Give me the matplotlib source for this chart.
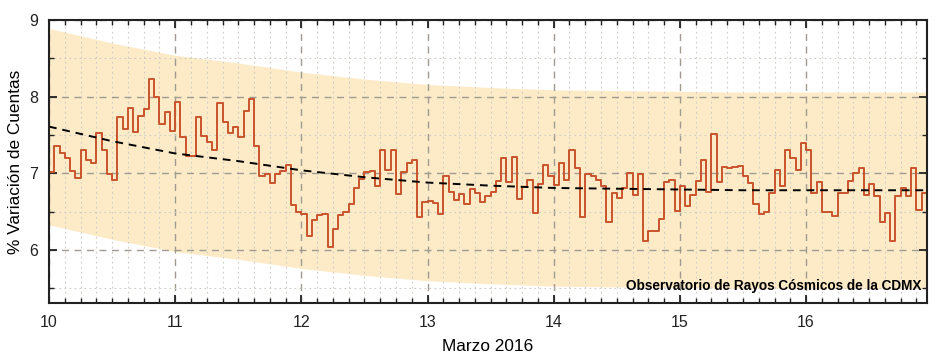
import numpy as np
import matplotlib
matplotlib.use("Agg")
import matplotlib.pyplot as plt
from matplotlib.ticker import MultipleLocator

plt.rcParams['font.family'] = ['Liberation Sans', 'DejaVu Sans']

# Hourly % variation of counts, starting at day 10.0 (March 2016)
start_day = 10.0
counts_var = [
    7.02, 7.36, 7.26, 7.20, 7.03, 6.94, 7.30, 7.17, 7.13, 7.53, 7.31, 6.99,
    6.92, 7.74, 7.58, 7.85, 7.54, 7.75, 7.84, 8.23, 7.99, 7.64, 7.80, 7.55,
    7.93, 7.47, 7.23, 7.23, 7.73, 7.49, 7.41, 7.30, 7.92, 7.67, 7.53, 7.60,
    7.48, 7.81, 7.97, 7.36, 6.96, 6.99, 6.87, 6.99, 7.03, 7.11, 6.59, 6.50,
    6.47, 6.18, 6.39, 6.46, 6.47, 6.04, 6.27, 6.46, 6.49, 6.60, 6.81, 6.93,
    7.02, 7.03, 6.84, 7.30, 7.05, 7.30, 6.73, 7.02, 7.13, 7.17, 6.43, 6.63,
    6.64, 6.62, 6.47, 6.96, 6.76, 6.65, 6.73, 6.60, 6.79, 6.74, 6.63, 6.70,
    6.76, 6.90, 7.20, 6.89, 7.21, 6.66, 6.82, 6.92, 6.48, 6.86, 7.11, 6.97,
    6.85, 7.14, 6.91, 7.30, 7.07, 6.43, 6.99, 6.97, 6.91, 6.83, 6.37, 6.74,
    6.68, 6.81, 7.01, 6.72, 6.99, 6.12, 6.25, 6.25, 6.40, 6.89, 6.92, 6.51,
    6.83, 6.57, 6.72, 6.90, 7.17, 6.76, 7.51, 6.89, 7.08, 7.07, 7.08, 7.10,
    6.96, 6.87, 6.60, 6.47, 6.50, 6.75, 7.05, 6.83, 7.31, 7.20, 7.04, 7.39,
    7.30, 6.75, 6.89, 6.50, 6.50, 6.44, 6.75, 6.75, 6.90, 7.00, 7.07, 6.72,
    6.86, 6.70, 6.36, 6.48, 6.12, 6.70, 6.81, 6.70, 7.07, 6.52, 6.75,
]

# Trend (dashed) and uncertainty band, read at half-day steps
trend_x = [10.0, 10.5, 11.0, 11.5, 12.0, 12.5, 13.0, 13.5, 14.0, 14.5,
           15.0, 15.5, 16.0, 16.5, 17.0]
trend_y = [7.61, 7.42, 7.26, 7.16, 7.04, 6.95, 6.88, 6.84, 6.81, 6.80,
           6.79, 6.78, 6.78, 6.78, 6.78]
band_upper = [8.89, 8.70, 8.54, 8.44, 8.32, 8.23, 8.16, 8.12, 8.09, 8.08,
              8.07, 8.06, 8.06, 8.06, 8.06]
band_lower = [6.33, 6.14, 5.98, 5.88, 5.76, 5.67, 5.60, 5.56, 5.53, 5.52,
              5.51, 5.50, 5.50, 5.50, 5.50]

x_ticks = [10, 11, 12, 13, 14, 15, 16]
y_ticks = [6, 7, 8, 9]
x_label = "Marzo 2016"
y_label = "% Variación de Cuentas"
credit = "Observatorio de Rayos Cósmicos de la CDMX"

n = len(counts_var)
hours_x = start_day + np.arange(n + 1) / 24.0
vals = np.append(counts_var, counts_var[-1])

fig = plt.figure(figsize=(9.39, 3.59), dpi=100)
ax = fig.add_axes([0.0522, 0.156, 0.9350, 0.7883])

ax.fill_between(trend_x, band_lower, band_upper, color='#fdebc8', lw=0, zorder=1)
ax.step(hours_x, vals, where='post', color='#c9532c', lw=1.4, zorder=3)
ax.plot(trend_x, trend_y, color='black', lw=1.4, ls=(0, (4, 3)), zorder=4)

ax.set_xlim(start_day, start_day + n / 24.0)
ax.set_ylim(5.31, 9.0)
ax.set_xticks(x_ticks)
ax.set_yticks(y_ticks)
ax.xaxis.set_minor_locator(MultipleLocator(1 / 8))
ax.yaxis.set_minor_locator(MultipleLocator(0.5))

ax.set_axisbelow(False)
ax.grid(which='major', color='#a09a90', ls=(0, (5, 4)), lw=1.0, zorder=2)
ax.grid(which='minor', color='#cfcbc4', ls=(0, (1.5, 3)), lw=0.8, zorder=2)

ax.tick_params(which='both', direction='in', top=True, right=True,
               colors='#222222', labelsize=11.5)
ax.tick_params(axis='x', which='major', pad=8.5)
ax.tick_params(axis='y', which='major', pad=8)
ax.tick_params(which='major', length=6, width=1.3)
ax.tick_params(which='minor', length=3.5, width=1.0)
for s in ax.spines.values():
    s.set_linewidth(1.5)
    s.set_color('#222222')
    s.set_zorder(5)

ax.set_xlabel(x_label, fontsize=12.4, labelpad=6.5)
ax.set_ylabel(y_label, fontsize=12.4, labelpad=4)

ax.text(0.9935, 0.046, credit, transform=ax.transAxes, ha='right', va='baseline',
        fontsize=9.8, fontweight='bold', color='black', zorder=6)

fig.savefig('out.png', dpi=100)
